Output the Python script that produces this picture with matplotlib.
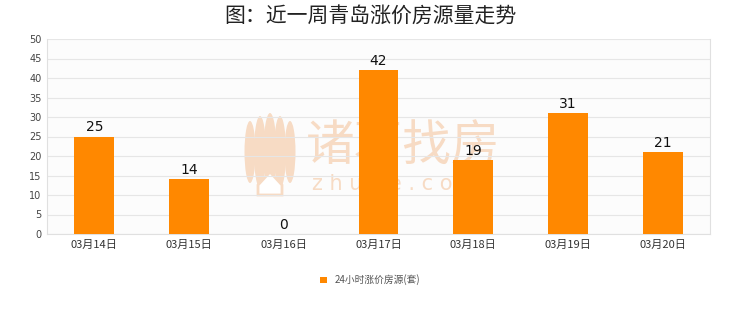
import matplotlib
matplotlib.use("Agg")
import matplotlib.pyplot as plt
from matplotlib.patches import Patch, Ellipse, Polygon

plt.rcParams['font.family'] = ['Noto Sans CJK SC', 'DejaVu Sans']

categories = ["03月14日", "03月15日", "03月16日", "03月17日", "03月18日", "03月19日", "03月20日"]
values = [25, 14, 0, 42, 19, 31, 21]
series_name = "24小时涨价房源(套)"
title = "图：近一周青岛涨价房源量走势"
yticks = [0, 5, 10, 15, 20, 25, 30, 35, 40, 45, 50]

W, H = 740, 312
fig = plt.figure(figsize=(7.4, 3.12), dpi=100)
fig.patch.set_facecolor("#ffffff")
ax = fig.add_axes([47/W, 1 - 234/H, (710-47)/W, (234-39)/H])
ax.set_facecolor("#fcfcfc")

x = list(range(len(categories)))
ax.bar(x, values, width=0.42, color="#ff8800", zorder=3)
for xi, v in zip(x, values):
    ax.text(xi, v + 0.6, str(v), ha="center", va="bottom", fontsize=10, color="#111111", zorder=4,
            family="DejaVu Sans")

ax.set_xlim(-0.5, len(categories) - 0.5)
ax.set_ylim(0, 50)
ax.set_yticks(yticks)
ax.set_yticklabels([str(t) for t in yticks], fontsize=7, color="#444444", family="DejaVu Sans")
ax.set_xticks(x)
ax.set_xticklabels(categories, fontsize=8, color="#333333")
ax.tick_params(axis="both", length=0, pad=4)
ax.grid(axis="y", color="#e6e6e6", linewidth=0.8, zorder=0)
ax.spines["top"].set_visible(False)
for s in ["left", "right", "bottom"]:
    ax.spines[s].set_color("#e0e0e0")
    ax.spines[s].set_linewidth(0.8)

# watermark (behind bars)
wm = "#f7dbc4"
tf = fig.transFigure
ax.text(306/W, 1 - 146/H, "诸葛找房", fontsize=35, color=wm, ha="left", va="center", zorder=1, transform=tf)
ax.text(312/W, 1 - 184/H, "z h u g e . c o m", fontsize=15, color=wm, ha="left", va="center", zorder=1,
        transform=tf, family="DejaVu Sans")
# simple lotus-like logo
cx = 270
for dx, h, w in [(-20, 62, 11), (-10, 72, 12), (0, 78, 13), (10, 72, 12), (20, 62, 11)]:
    ax.add_patch(Ellipse(((cx + dx)/W, 1 - 152/H), w/W, h/H, transform=tf, facecolor=wm,
                         edgecolor="none", zorder=1))
ax.add_patch(Polygon([((cx-12)/W, 1-185/H), (cx/W, 1-172/H), ((cx+12)/W, 1-185/H),
                      ((cx+12)/W, 1-195/H), ((cx-12)/W, 1-195/H)], closed=True, transform=tf,
                     facecolor="#ffffff", edgecolor=wm, linewidth=2, zorder=1.1))

fig.text(0.5, 1 - 17/H, title, fontsize=15, fontweight="medium", color="#222222", ha="center", va="center")

handles = [Patch(facecolor="#ff8800", edgecolor="none")]
fig.legend(handles, [series_name], loc="center", bbox_to_anchor=(0.5, 1 - 280/H), frameon=False,
           fontsize=7, handlelength=0.7, handleheight=0.7, labelcolor="#555555")

fig.savefig("out.png", dpi=100, facecolor=fig.get_facecolor())
